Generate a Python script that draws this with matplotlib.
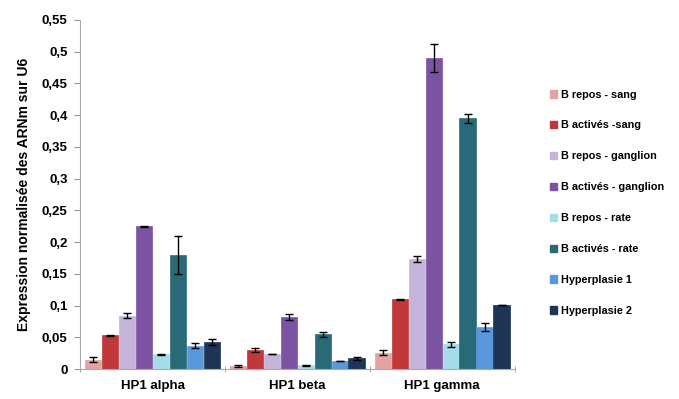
import matplotlib.pyplot as plt
import numpy as np
from matplotlib.patches import Patch

plt.rcParams['font.family'] = ['Liberation Sans', 'DejaVu Sans']

groups = ["HP1 alpha", "HP1 beta", "HP1 gamma"]
series = ["B repos - sang", "B activés -sang", "B repos - ganglion", "B activés - ganglion",
          "B repos - rate", "B activés - rate", "Hyperplasie 1", "Hyperplasie 2"]
colors = ["#e3a3a1", "#c0383a", "#c4b4da", "#7c52a3", "#a6dce8", "#2a6a78", "#5a98dc", "#1d3557"]

# values per series: [alpha, beta, gamma]
values = [
    [0.015, 0.005, 0.026],
    [0.053, 0.030, 0.110],
    [0.084, 0.023, 0.173],
    [0.225, 0.082, 0.490],
    [0.023, 0.006, 0.039],
    [0.180, 0.055, 0.395],
    [0.037, 0.013, 0.066],
    [0.043, 0.017, 0.101],
]
errors = [
    [0.004, 0.001, 0.004],
    [0.001, 0.003, 0.001],
    [0.004, 0.000, 0.005],
    [0.001, 0.004, 0.022],
    [0.001, 0.001, 0.004],
    [0.030, 0.004, 0.007],
    [0.004, 0.000, 0.006],
    [0.005, 0.002, 0.000],
]

yticks = [0, 0.05, 0.1, 0.15, 0.2, 0.25, 0.3, 0.35, 0.4, 0.45, 0.5, 0.55]
ytick_labels = ["0", "0,05", "0,1", "0,15", "0,2", "0,25", "0,3", "0,35", "0,4", "0,45", "0,5", "0,55"]

fig = plt.figure(figsize=(6.79, 3.99), dpi=100)
ax = fig.add_axes([0.118, 0.075, 0.640, 0.875])

x = np.arange(len(groups))
w = 0.117
for i, (name, col) in enumerate(zip(series, colors)):
    pos = x + (i - 3.5) * w
    ax.bar(pos, values[i], width=w * 0.97, color=col, edgecolor=col, linewidth=0.5)
    ax.errorbar(pos, values[i], yerr=errors[i], fmt='none', ecolor='black',
                elinewidth=1, capsize=3, capthick=1)

ax.set_xlim(-0.5, 2.5)
ax.set_ylim(0, 0.55)
ax.set_yticks(yticks)
ax.set_yticklabels(ytick_labels, fontsize=9.5, fontweight='bold')
ax.set_xticks(x)
ax.set_xticklabels(groups, fontsize=9.5, fontweight='bold')
ax.tick_params(axis='x', length=0, pad=8)
ax.set_xticks([-0.5, 0.5, 1.5, 2.5], minor=True)
ax.tick_params(axis='x', which='minor', length=5, color='#999999', direction='inout')
ax.tick_params(axis='y', length=4, color='#999999', direction='out', pad=5)

for s in ['top', 'right']:
    ax.spines[s].set_visible(False)
for s in ['left', 'bottom']:
    ax.spines[s].set_color('#aaaaaa')

ax.set_ylabel("Expression normalisée des ARNm sur U6", fontsize=10, fontweight='bold', labelpad=8)

handles = [Patch(facecolor=c, edgecolor=c) for c in colors]
fig.legend(handles, series, loc='upper left', bbox_to_anchor=(0.795, 0.80), frameon=False,
           handlelength=0.7, handleheight=0.7, handletextpad=0.4, labelspacing=1.93,
           prop={'size': 7.8, 'weight': 'bold'})

fig.savefig("out.png", dpi=100)
